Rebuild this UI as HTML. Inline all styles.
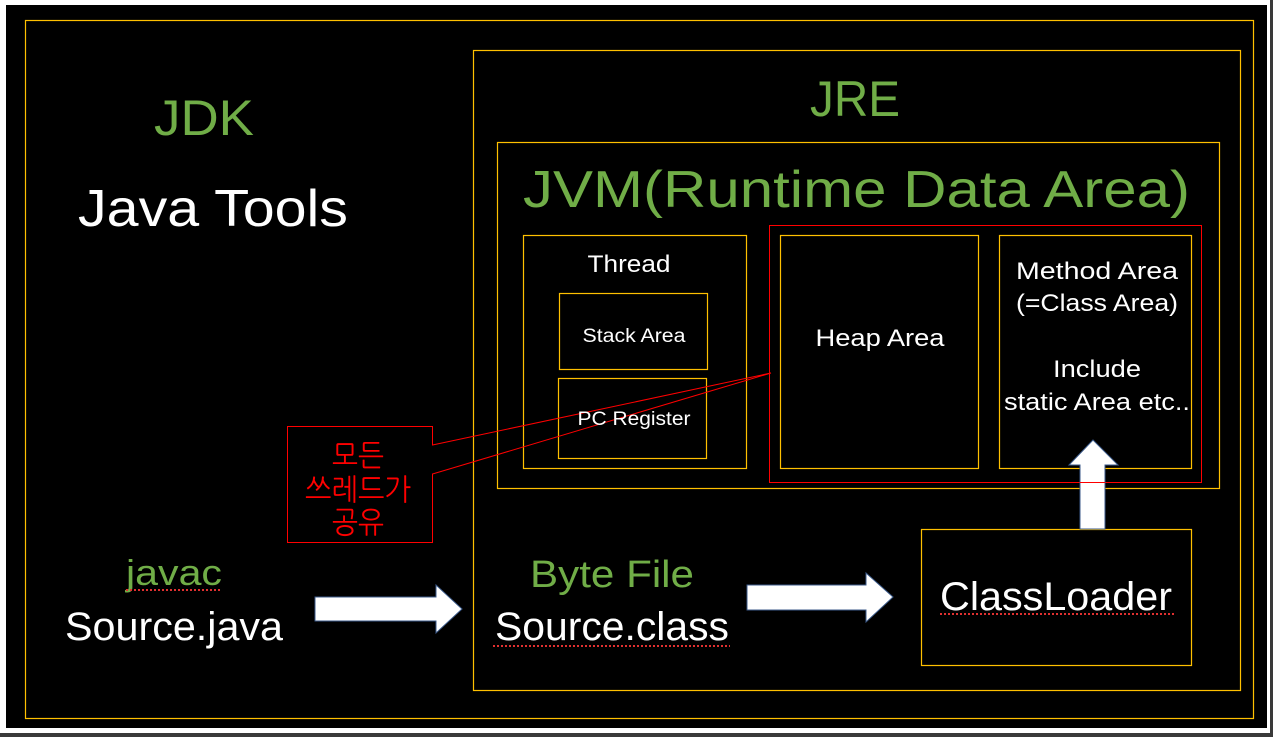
<!DOCTYPE html>
<html><head><meta charset="utf-8"><style>
html,body{margin:0;padding:0;background:#3a3a3a;}
svg{display:block}
text{font-family:"Liberation Sans","NanumGothic",sans-serif;}
</style></head><body>
<svg width="1273" height="737" viewBox="0 0 1273 737" xmlns="http://www.w3.org/2000/svg">
<rect x="0" y="0" width="1273" height="737" fill="#3a3a3a"/>
<rect x="0" y="0" width="1270" height="733" fill="#fff"/>
<rect x="6" y="5" width="1261" height="723" fill="#000"/>
<g fill="none" stroke="#ffc000" stroke-width="1.2">
<rect x="25.5" y="20.5" width="1228" height="698"/>
<rect x="473.5" y="50.5" width="767" height="640"/>
<rect x="497.5" y="142.5" width="722" height="346"/>
<rect x="523.5" y="235.5" width="223" height="233"/>
<rect x="559.5" y="293.5" width="148" height="76"/>
<rect x="558.5" y="378.5" width="148" height="80"/>
<rect x="780.5" y="235.5" width="198" height="233"/>
<rect x="999.5" y="235.5" width="192" height="233"/>
<rect x="921.5" y="529.5" width="270" height="136"/>
</g>
<g fill="none" stroke="#ff0000" stroke-width="1">
<rect x="769.5" y="225.5" width="432" height="257"/>
<path d="M287.5 426.5 H432.5 V445 L771 373 L432.5 474 V542.5 H287.5 Z"/>
</g>
<g fill="#fff" stroke="#3b5a8a" stroke-width="1">
<path d="M315 597 H436 V585 L462 609 L436 633 V621 H315 Z"/>
<path d="M747 585 H866 V573 L893 597 L866 622 V610 H747 Z"/>
<path d="M1080 529 V465 H1069 L1093 440 L1118 465 H1105 V529 Z"/>
</g>
<line x1="1080" y1="482.5" x2="1105" y2="482.5" stroke="#ff0000"/>
<g fill="#70ad47">
<text x="204" y="135" font-size="50" text-anchor="middle" textLength="100" lengthAdjust="spacingAndGlyphs">JDK</text>
<text x="855" y="116" font-size="50" text-anchor="middle" textLength="90" lengthAdjust="spacingAndGlyphs">JRE</text>
<text x="523" y="207" font-size="52" textLength="667" lengthAdjust="spacingAndGlyphs">JVM(Runtime Data Area)</text>
<text x="126" y="585" font-size="36" textLength="96" lengthAdjust="spacingAndGlyphs">javac</text>
<text x="530" y="587" font-size="38" textLength="164" lengthAdjust="spacingAndGlyphs">Byte File</text>
</g>
<g fill="#fff">
<text x="78" y="226" font-size="52" textLength="270" lengthAdjust="spacingAndGlyphs">Java Tools</text>
<text x="65" y="640" font-size="40" textLength="218" lengthAdjust="spacingAndGlyphs">Source.java</text>
<text x="495" y="640" font-size="40" textLength="234" lengthAdjust="spacingAndGlyphs">Source.class</text>
<text x="940" y="610" font-size="40" textLength="232" lengthAdjust="spacingAndGlyphs">ClassLoader</text>
<text x="629" y="272" font-size="24" text-anchor="middle" textLength="83" lengthAdjust="spacingAndGlyphs">Thread</text>
<text x="634" y="342" font-size="19" text-anchor="middle" textLength="103" lengthAdjust="spacingAndGlyphs">Stack Area</text>
<text x="634" y="425" font-size="19" text-anchor="middle" textLength="113" lengthAdjust="spacingAndGlyphs">PC Register</text>
<text x="880" y="346" font-size="24" text-anchor="middle" textLength="129" lengthAdjust="spacingAndGlyphs">Heap Area</text>
<text x="1097" y="279" font-size="24" text-anchor="middle" textLength="162" lengthAdjust="spacingAndGlyphs">Method Area</text>
<text x="1097" y="311" font-size="24" text-anchor="middle" textLength="162" lengthAdjust="spacingAndGlyphs">(=Class Area)</text>
<text x="1097" y="377" font-size="24" text-anchor="middle" textLength="88" lengthAdjust="spacingAndGlyphs">Include</text>
<text x="1097" y="410" font-size="24" text-anchor="middle" textLength="186" lengthAdjust="spacingAndGlyphs">static Area etc..</text>
</g>
<g fill="#ff0000" font-size="30" text-anchor="middle">
<text x="358" y="466" textLength="52" lengthAdjust="spacingAndGlyphs">모든</text>
<text x="358" y="500" textLength="106" lengthAdjust="spacingAndGlyphs">쓰레드가</text>
<text x="358" y="533" textLength="52" lengthAdjust="spacingAndGlyphs">공유</text>
</g>
<g fill="none" stroke="#e03030" stroke-width="2" stroke-dasharray="2,2">
<line x1="126" y1="590" x2="222" y2="590"/>
<line x1="493" y1="646" x2="730" y2="646"/>
<line x1="940" y1="614" x2="1175" y2="614"/>
</g>
</svg>
</body></html>
